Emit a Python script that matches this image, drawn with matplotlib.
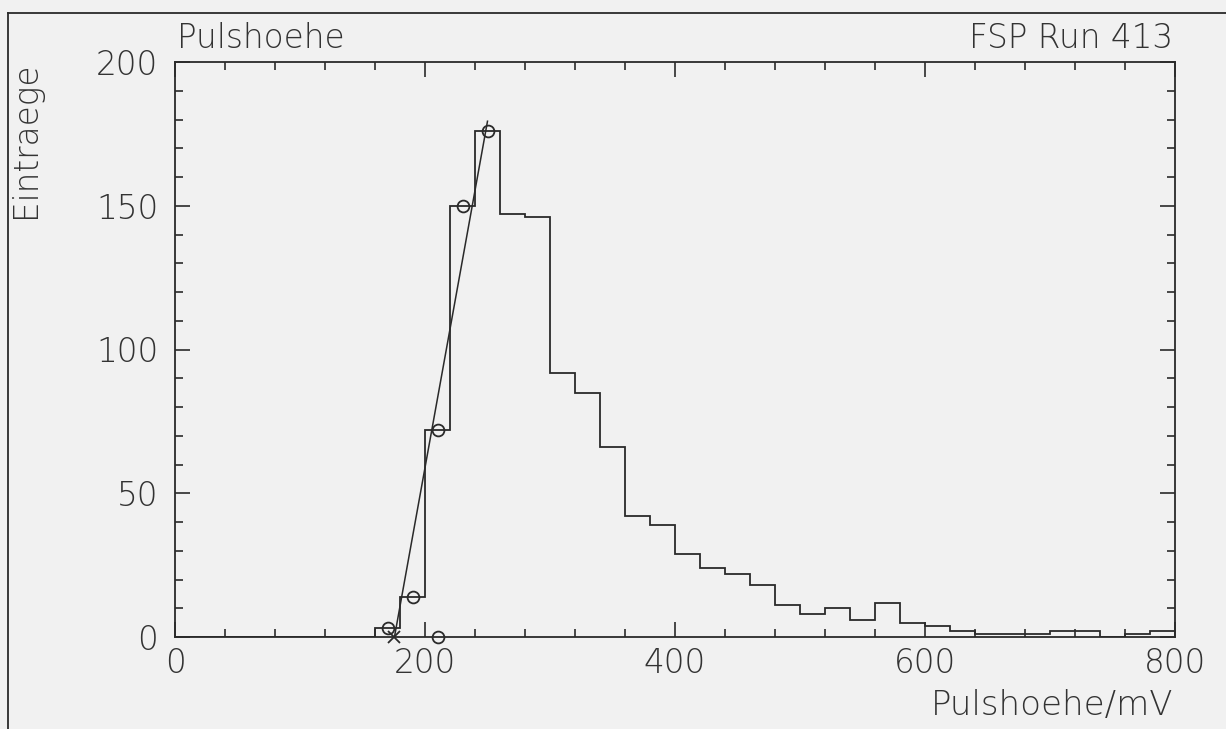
import numpy as np
import matplotlib.pyplot as plt
from matplotlib.lines import Line2D

# pulse height spectrum, 20 mV bins from 0 to 800 mV
bin_edges = np.arange(0, 801, 20)
counts = [0, 0, 0, 0, 0, 0, 0, 0, 3, 14,
          72, 150, 176, 147, 146, 92, 85, 66, 42, 39,
          29, 24, 22, 18, 11, 8, 10, 6, 12, 5,
          4, 2, 1, 1, 1, 2, 2, 0, 1, 2]

# bins on the rising edge used for the linear fit
edge_x = [170, 190, 210, 230, 250]
edge_y = [3, 14, 72, 150, 176]
extra_x = [210]
extra_y = [0]

FONT = ['DejaVu Sans']
INK = '#2a2a2a'
TXT = '#333333'
plt.rcParams['font.family'] = FONT
plt.rcParams['font.weight'] = 'light'

fig = plt.figure(figsize=(12.26, 7.29), dpi=100, facecolor='#f1f1f1')
ax = fig.add_axes([175 / 1226, 1 - 637 / 729, 1000 / 1226, 575 / 729])
ax.set_facecolor('#f1f1f1')

ax.stairs(counts, bin_edges, color=INK, lw=1.3)

# straight line fit through the leading edge, drawn from its zero crossing
slope, icpt = np.polyfit(edge_x, edge_y, 1)
x0 = -icpt / slope
fx = np.array([x0, edge_x[-1]])
ax.plot(fx, slope * fx + icpt, color=INK, lw=1.1)
ax.plot(edge_x, edge_y, 'o', mfc='none', mec=INK, ms=8.5, mew=1.3)
ax.plot(extra_x, extra_y, 'o', mfc='none', mec=INK, ms=8.5, mew=1.3, clip_on=False)
ax.plot([x0], [0], 'x', color=INK, ms=8, mew=1.3, clip_on=False)

ax.set_xlim(0, 800)
ax.set_ylim(0, 200)
ax.set_xticks(np.arange(0, 801, 200))
ax.set_xticks(np.arange(0, 801, 40), minor=True)
ax.set_yticks(np.arange(0, 201, 50))
ax.set_yticks(np.arange(0, 201, 10), minor=True)
ax.tick_params(which='both', direction='in', top=True, right=True,
               color=INK, width=1.2, labelsize=23.5, labelcolor=TXT)
ax.tick_params(which='major', length=11)
ax.tick_params(which='minor', length=6)
ax.tick_params(axis='x', pad=7)
ax.tick_params(axis='y', pad=12)
for s in ax.spines.values():
    s.set_color(INK)
    s.set_linewidth(1.3)

fig.text(177 / 1226, 1 - 48 / 729, 'Pulshoehe', ha='left', va='baseline',
         fontsize=23.5, color=TXT)
fig.text(1173 / 1226, 1 - 48 / 729, 'FSP Run 413', ha='right', va='baseline',
         fontsize=23.5, color=TXT)
fig.text(1173 / 1226, 1 - 715 / 729, 'Pulshoehe/mV', ha='right', va='baseline',
         fontsize=24.5, color=TXT)
fig.text(25 / 1226, 1 - 62 / 729, 'Eintraege', ha='center', va='top',
         rotation=90, fontsize=23.5, color=TXT)

# page frame
fig.add_artist(Line2D([8 / 1226, 1], [1 - 13 / 729, 1 - 13 / 729],
                      transform=fig.transFigure, color=INK, lw=1.3))
fig.add_artist(Line2D([8 / 1226, 8 / 1226], [0, 1 - 13 / 729],
                      transform=fig.transFigure, color=INK, lw=1.3))

fig.savefig('out.png', dpi=100, facecolor=fig.get_facecolor())
